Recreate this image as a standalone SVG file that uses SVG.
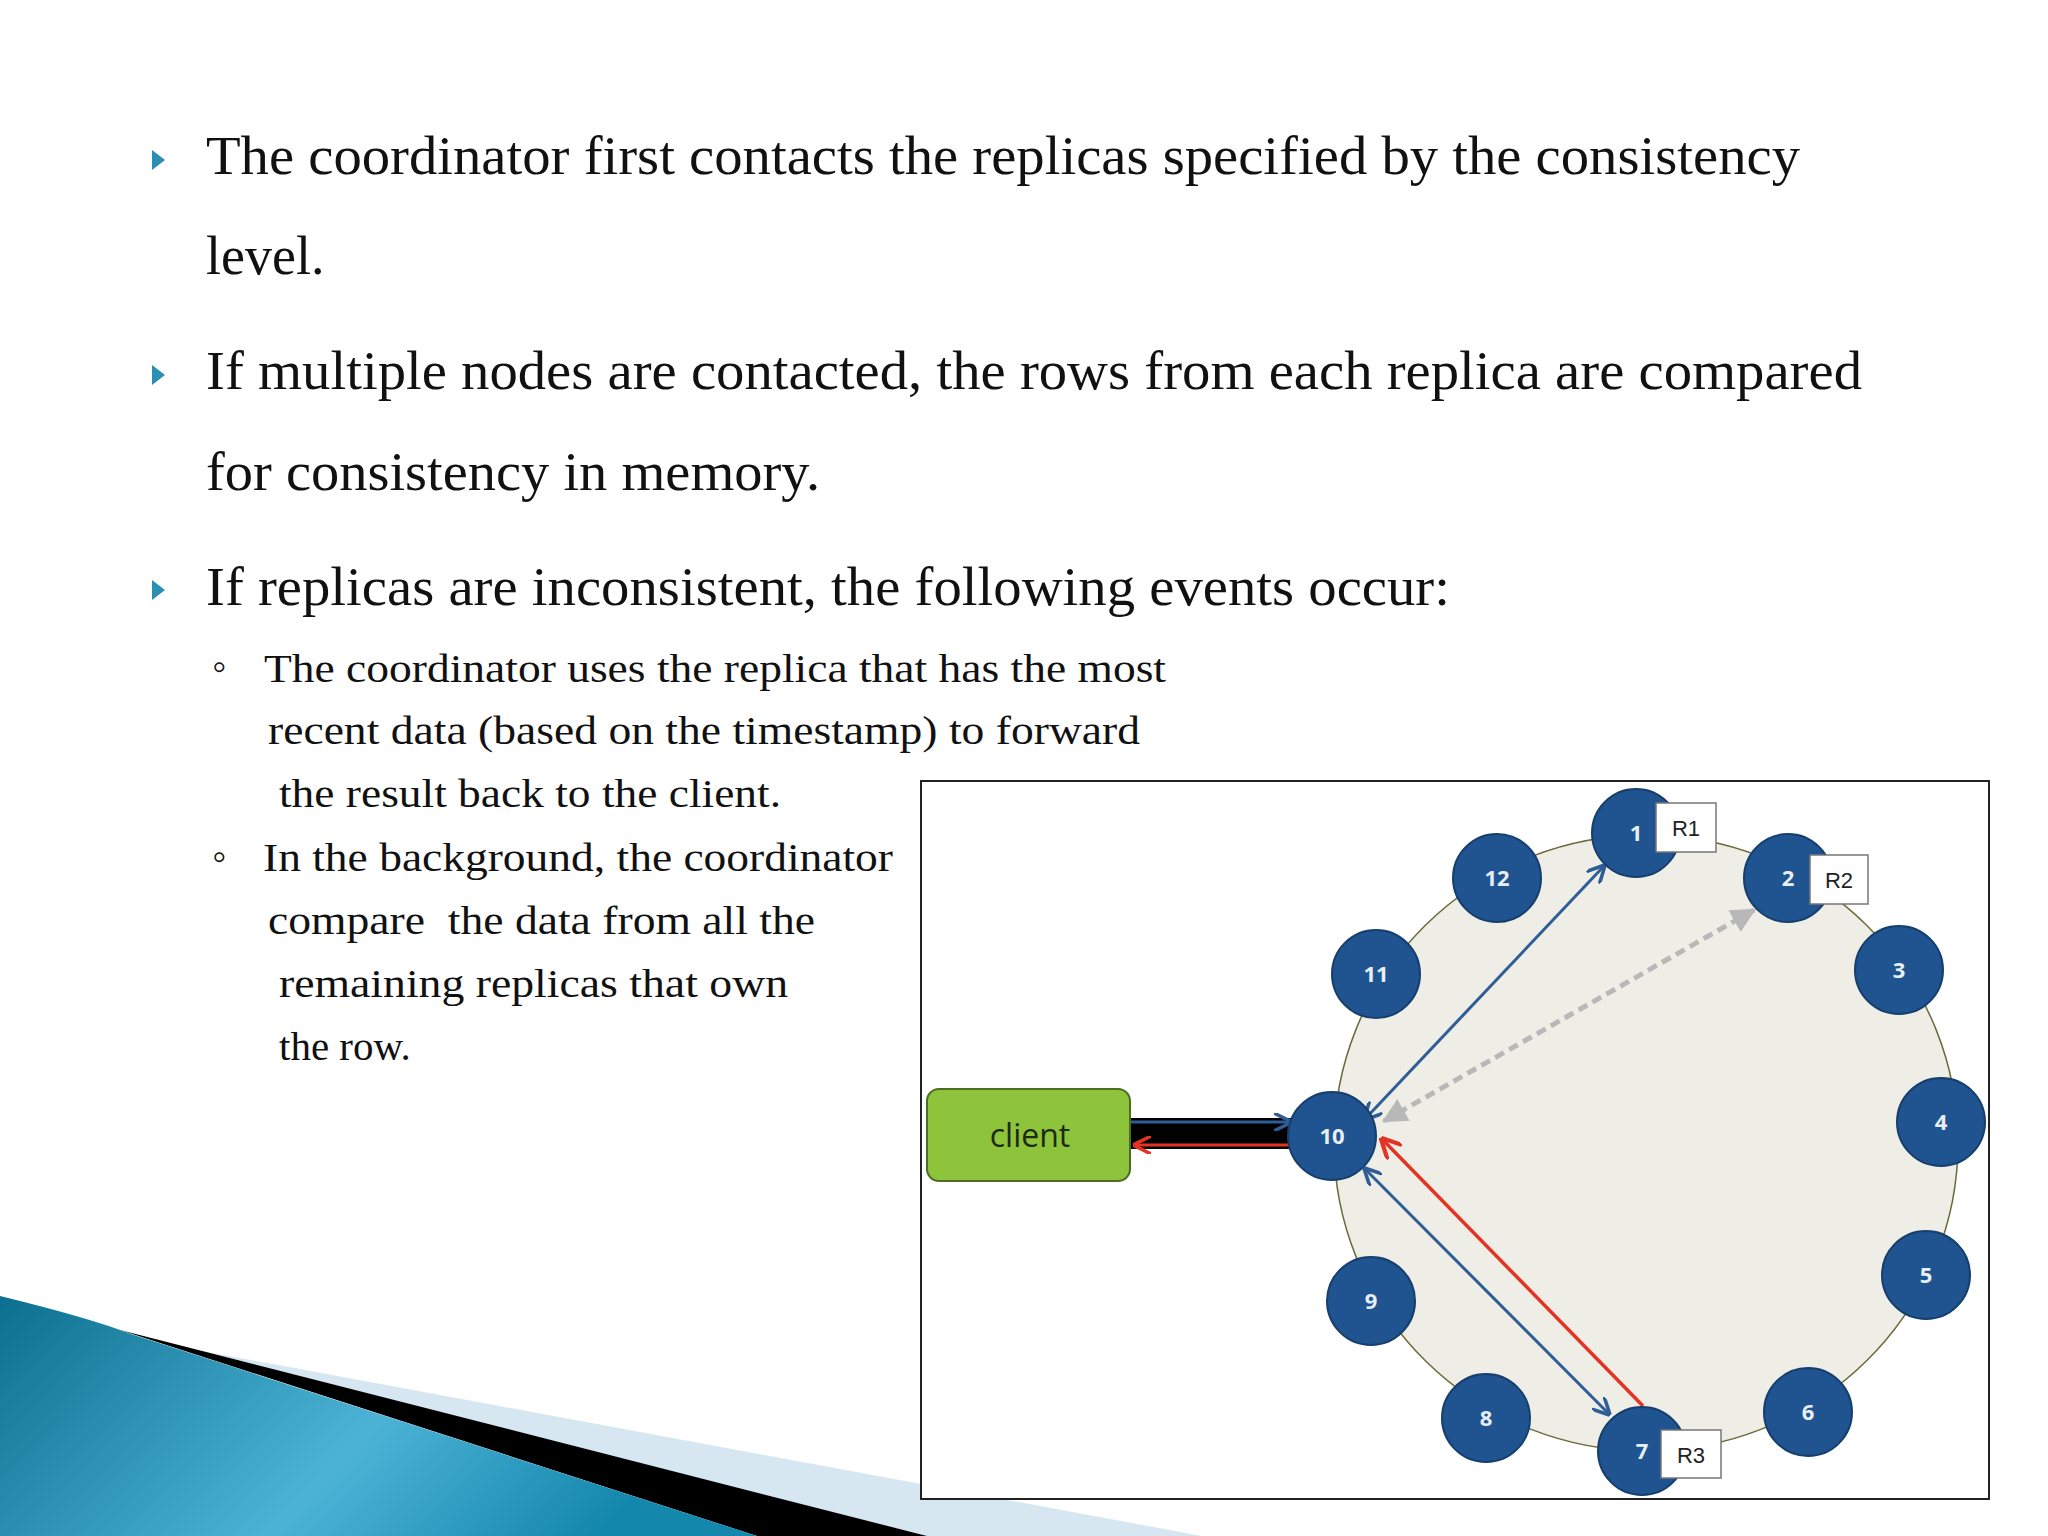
<svg xmlns="http://www.w3.org/2000/svg" width="2048" height="1536" viewBox="0 0 2048 1536">
<defs>
<style>
.m{font-family:"Liberation Serif",serif;font-size:54px;fill:#111}
.s{font-family:"Liberation Serif",serif;font-size:41px;fill:#111}
.n circle{fill:#1f5490;stroke:#173f6d;stroke-width:2}
.n text{font-family:"Open Sans","Liberation Sans",sans-serif;font-size:22px;font-weight:bold;fill:#e8eef5;text-anchor:middle}
.r rect{fill:#fff;stroke:#777;stroke-width:1.5}
.r text{font-family:"Liberation Sans",sans-serif;font-size:22px;fill:#222;text-anchor:middle}
.tri{fill:#2a8fb0}
</style>
<marker id="ab" viewBox="0 0 10 10" refX="9" refY="5" markerWidth="6" markerHeight="6" orient="auto-start-reverse"><path d="M0,0 L10,5 L0,10" fill="none" stroke="#2f5d97" stroke-width="2"/></marker>
<marker id="ag" viewBox="0 0 10 10" refX="9" refY="5" markerWidth="5" markerHeight="5" orient="auto-start-reverse"><path d="M0,0 L10,5 L0,10 Z" fill="#b8b8b8"/></marker>
<marker id="ar" viewBox="0 0 10 10" refX="9" refY="5" markerWidth="6" markerHeight="6" orient="auto"><path d="M0,0 L10,5 L0,10" fill="none" stroke="#e53323" stroke-width="2"/></marker>
<linearGradient id="bg" x1="0" y1="0" x2="1" y2="0.3"><stop offset="0" stop-color="#0c6f8f"/><stop offset="0.6" stop-color="#4cb3d6"/><stop offset="1" stop-color="#1487ad"/></linearGradient>
</defs>
<rect width="2048" height="1536" fill="#fff"/>
<g id="decoration">
<path d="M170,1345 L1202,1536 L927,1536 Z" fill="#d6e7f1"/>
<path d="M120,1330 L927,1536 L757,1536 Z" fill="#000"/>
<path d="M0,1296 Q90,1318 131,1334 L757,1536 L0,1536 Z" fill="url(#bg)"/>
</g>
<g id="text">
<path class="tri" d="M152,150 L165,160 L152,170 Z"/>
<path class="tri" d="M152,365 L165,375 L152,385 Z"/>
<path class="tri" d="M152,580 L165,590 L152,600 Z"/>
<text class="m" x="206" y="174" textLength="1594" lengthAdjust="spacingAndGlyphs">The coordinator first contacts the replicas specified by the consistency</text>
<text class="m" x="206" y="274">level.</text>
<text class="m" x="206" y="389" textLength="1656" lengthAdjust="spacingAndGlyphs">If multiple nodes are contacted, the rows from each replica are compared</text>
<text class="m" x="206" y="490" textLength="614" lengthAdjust="spacingAndGlyphs">for consistency in memory.</text>
<text class="m" x="206" y="605" textLength="1244" lengthAdjust="spacingAndGlyphs">If replicas are inconsistent, the following events occur:</text>
<text class="s" x="212" y="680" font-size="30">◦</text>
<text class="s" x="212" y="870" font-size="30">◦</text>
<text class="s" x="264" y="682" textLength="902" lengthAdjust="spacingAndGlyphs">The coordinator uses the replica that has the most</text>
<text class="s" x="268" y="744" textLength="872" lengthAdjust="spacingAndGlyphs">recent data (based on the timestamp) to forward</text>
<text class="s" x="279" y="807" textLength="502" lengthAdjust="spacingAndGlyphs">the result back to the client.</text>
<text class="s" x="263" y="871" textLength="630" lengthAdjust="spacingAndGlyphs">In the background, the coordinator</text>
<text class="s" x="268" y="934" textLength="547" lengthAdjust="spacingAndGlyphs" xml:space="preserve">compare  the data from all the</text>
<text class="s" x="279" y="997" textLength="509" lengthAdjust="spacingAndGlyphs">remaining replicas that own</text>
<text class="s" x="279" y="1060">the row.</text>
</g>
<g id="frame">
<rect x="921" y="781" width="1068" height="718" fill="#fff" stroke="#222" stroke-width="2"/>
<ellipse cx="1646" cy="1143" rx="312" ry="308" fill="#eeede6" stroke="#6b6b3a" stroke-width="1.5"/>
</g>
<g id="connectors">
<rect x="1130" y="1118" width="170" height="31" fill="#000"/>
<path d="M1130,1122 L1290,1122" stroke="#2f5d97" stroke-width="3" marker-end="url(#ab)" fill="none"/>
<path d="M1295,1145 L1135,1145" stroke="#e53323" stroke-width="3" marker-end="url(#ar)" fill="none"/>
<line x1="1365" y1="1119" x2="1604" y2="866" stroke="#2f5d97" stroke-width="3" marker-start="url(#ab)" marker-end="url(#ab)"/>
<line x1="1384" y1="1121" x2="1754" y2="910" stroke="#b8b8b8" stroke-width="5" stroke-dasharray="10,6" marker-start="url(#ag)" marker-end="url(#ag)"/>
<line x1="1365" y1="1169" x2="1609" y2="1414" stroke="#2f5d97" stroke-width="3" marker-start="url(#ab)" marker-end="url(#ab)"/>
<line x1="1643" y1="1406" x2="1382" y2="1139" stroke="#e53323" stroke-width="3.5" marker-end="url(#ar)"/>
</g>
<g id="client">
<rect x="927" y="1089" width="203" height="92" rx="12" fill="#8dc43c" stroke="#4d6e22" stroke-width="2"/>
<text x="1030" y="1147" font-family="Open Sans, Liberation Sans, sans-serif" font-size="32" fill="#1e2a10" text-anchor="middle">client</text>
</g>
<g id="node1" class="n"><circle cx="1636" cy="833" r="44"/><text x="1636" y="841">1</text></g>
<g id="node2" class="n"><circle cx="1788" cy="878" r="44"/><text x="1788" y="886">2</text></g>
<g id="node3" class="n"><circle cx="1899" cy="970" r="44"/><text x="1899" y="978">3</text></g>
<g id="node4" class="n"><circle cx="1941" cy="1122" r="44"/><text x="1941" y="1130">4</text></g>
<g id="node5" class="n"><circle cx="1926" cy="1275" r="44"/><text x="1926" y="1283">5</text></g>
<g id="node6" class="n"><circle cx="1808" cy="1412" r="44"/><text x="1808" y="1420">6</text></g>
<g id="node7" class="n"><circle cx="1642" cy="1451" r="44"/><text x="1642" y="1459">7</text></g>
<g id="node8" class="n"><circle cx="1486" cy="1418" r="44"/><text x="1486" y="1426">8</text></g>
<g id="node9" class="n"><circle cx="1371" cy="1301" r="44"/><text x="1371" y="1309">9</text></g>
<g id="node10" class="n"><circle cx="1332" cy="1136" r="44"/><text x="1332" y="1144">10</text></g>
<g id="node11" class="n"><circle cx="1376" cy="974" r="44"/><text x="1376" y="982">11</text></g>
<g id="node12" class="n"><circle cx="1497" cy="878" r="44"/><text x="1497" y="886">12</text></g>
<g id="R1" class="r"><rect x="1656" y="803" width="60" height="49"/><text x="1686" y="836">R1</text></g>
<g id="R2" class="r"><rect x="1810" y="855" width="58" height="49"/><text x="1839" y="888">R2</text></g>
<g id="R3" class="r"><rect x="1661" y="1430" width="60" height="48"/><text x="1691" y="1463">R3</text></g>
</svg>
